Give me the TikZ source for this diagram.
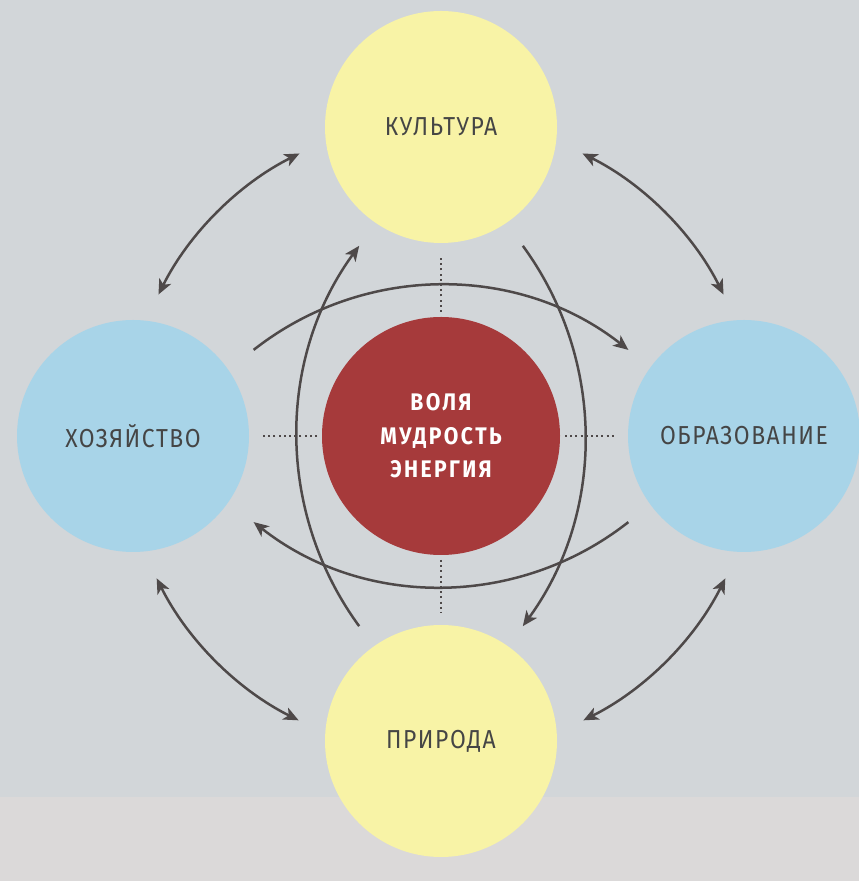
\documentclass[tikz,border=0pt]{standalone}
\usepackage{fontspec}
\usepackage{xcolor}
\usepackage{tikz}
\usetikzlibrary{arrows.meta, positioning, calc}
\newfontfamily\labelfont{Fira Sans}[FakeStretch=0.88, LetterSpace=6]
\newfontfamily\hubfont{Fira Sans}[FakeStretch=0.88, LetterSpace=10]
\definecolor{paper}{HTML}{D2D6D9}
\definecolor{paperlow}{HTML}{DBD9D9}
\definecolor{sunyellow}{HTML}{F8F3A6}
\definecolor{skyblue}{HTML}{A8D4E8}
\definecolor{hubred}{HTML}{A63A3B}
\definecolor{inkgray}{HTML}{4E4949}
\definecolor{labelgray}{HTML}{454545}

\begin{document}
\begin{tikzpicture}[x=1pt, y=1pt, >={Stealth[length=15pt, width=13pt, inset=4pt]}]
    \tikzstyle{sphere} = [circle, minimum size=232pt, inner sep=0pt, outer sep=0pt,
      text=labelgray, font=\labelfont\fontsize{26}{30}\selectfont]
    \tikzstyle{hub} = [circle, minimum size=238pt, inner sep=0pt, outer sep=0pt, fill=hubred,
      text=white, align=center, font=\hubfont\bfseries\fontsize{24}{33.5}\selectfont]
    \tikzstyle{link} = [draw=inkgray, line width=2.5pt]
    \tikzstyle{dotline} = [draw=inkgray, line width=2.2pt, dash pattern=on 2pt off 3.2pt,
      shorten <=5pt, shorten >=12pt]

    \clip (0,0) rectangle (859,881);
    \fill[paper] (0,0) rectangle (859,881);
    \fill[paperlow] (0,0) rectangle (859,84);

    \node (core) [hub] at (441,445) {ВОЛЯ\\МУДРОСТЬ\\ЭНЕРГИЯ};
    \node (culture) [sphere, fill=sunyellow, above=74pt of core] {КУЛЬТУРА};
    \node (nature) [sphere, fill=sunyellow, below=70pt of core] {ПРИРОДА};
    \node (economy) [sphere, fill=skyblue, left=73pt of core] {ХОЗЯЙСТВО};
    \node (schooling) [sphere, fill=skyblue, right=68pt of core] {ОБРАЗОВАНИЕ};

    \draw [dotline] (core) -- (culture);
    \draw [dotline] (core) -- (nature);
    \draw [dotline] (core) -- (economy);
    \draw [dotline] (core) -- (schooling);

    \draw [link, <->] ($(core)+(116.6:316)$) arc[start angle=116.6, end angle=153.4, radius=316];
    \draw [link, <->] ($(core)+(26.6:316)$) arc[start angle=26.6, end angle=63.4, radius=316];
    \draw [link, <->] ($(core)+(206.6:318)$) arc[start angle=206.6, end angle=243.4, radius=318];
    \draw [link, <->] ($(core)+(296.6:318)$) arc[start angle=296.6, end angle=333.4, radius=318];

    \draw [link, ->] ($(core)+(0,-152)+(128.2:303)$) arc[start angle=128.2, end angle=51.8, radius=303];
    \draw [link, ->] ($(core)+(0,152)+(-51.8:303)$) arc[start angle=-51.8, end angle=-128.2, radius=303];
    \draw [link, ->] ($(core)+(178,0)+(216.2:322)$) arc[start angle=216.2, end angle=143.8, radius=322];
    \draw [link, ->] ($(core)+(-178,0)+(36.2:322)$) arc[start angle=36.2, end angle=-36.2, radius=322];
\end{tikzpicture}
\end{document}
